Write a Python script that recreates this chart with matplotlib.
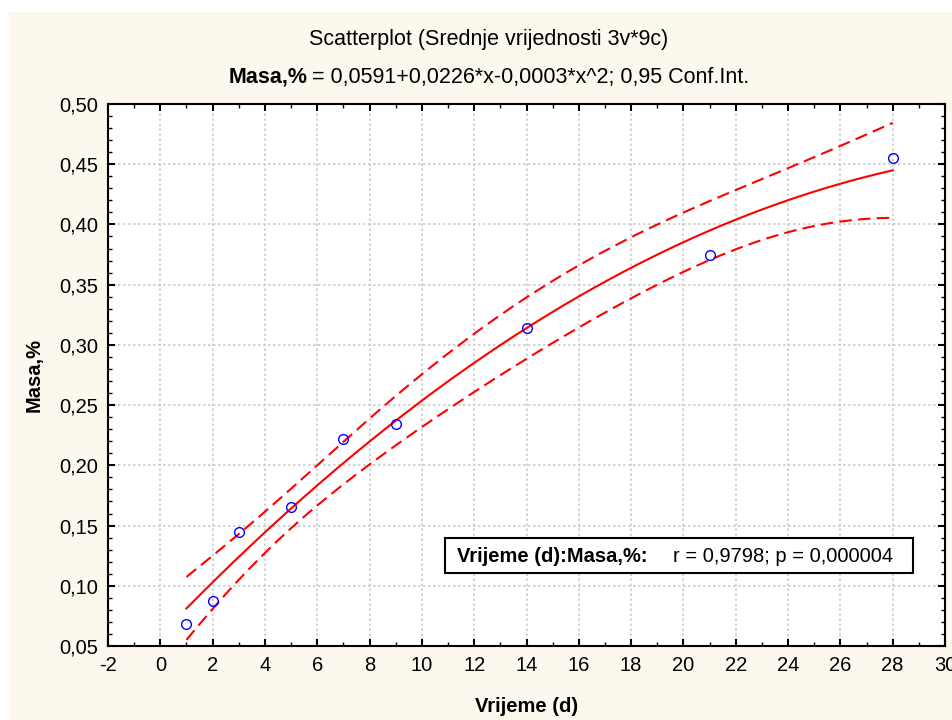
import numpy as np
import matplotlib
matplotlib.use("Agg")
import matplotlib.pyplot as plt
from matplotlib.patches import Rectangle
from matplotlib.ticker import MultipleLocator, FuncFormatter

# Srednje vrijednosti (3 ponavljanja x 9 termina)
vrijeme = [1, 2, 3, 5, 7, 9, 14, 21, 28]
masa = [0.068, 0.087, 0.145, 0.165, 0.222, 0.234, 0.314, 0.375, 0.455]

x_ticks = list(range(-2, 31, 2))
y_ticks = [0.05, 0.10, 0.15, 0.20, 0.25, 0.30, 0.35, 0.40, 0.45, 0.50]

naslov = "Scatterplot (Srednje vrijednosti 3v*9c)"
podnaslov_b = "Masa,%"
podnaslov = "= 0,0591+0,0226*x-0,0003*x^2; 0,95 Conf.Int."
okvir_b = "Vrijeme (d):Masa,%:"
okvir = "r = 0,9798; p = 0,000004"

W, H = 952, 720
krem = "#fdf8ed"

plt.rcParams["font.family"] = ["Liberation Sans", "DejaVu Sans"]
plt.rcParams["axes.unicode_minus"] = False
uski = ["Liberation Sans Narrow", "Liberation Sans", "DejaVu Sans"]

fig = plt.figure(figsize=(W / 100, H / 100), dpi=100, facecolor="white")
fig.add_artist(Rectangle((9 / W, 0), 1, 1 - 12 / H, transform=fig.transFigure,
                         facecolor=krem, edgecolor="none", zorder=-10))

ax = fig.add_axes([108 / W, 1 - 646 / H, (945 - 108) / W, (646 - 104) / H])
ax.set_facecolor("white")

# kvadratna regresija + 95% interval pouzdanosti
X = np.array(vrijeme, dtype=float)
Y = np.array(masa)
coef = np.polyfit(X, Y, 2)
A = np.vander(X, 3)
res = Y - A @ coef
s2 = res @ res / (len(X) - 3)
cov = s2 * np.linalg.inv(A.T @ A)
xs = np.linspace(min(vrijeme), max(vrijeme), 300)
As = np.vander(xs, 3)
yfit = As @ coef
se = np.sqrt(np.einsum("ij,jk,ik->i", As, cov, As))
t_val = 2.4469  # t(0.975, df=6)

ax.plot(xs, yfit, color="red", lw=1.5, zorder=3)
ax.plot(xs, yfit + t_val * se, color="red", lw=1.5, ls=(0, (6, 3)), zorder=3)
ax.plot(xs, yfit - t_val * se, color="red", lw=1.5, ls=(0, (6, 3)), zorder=3)
ax.plot(vrijeme, masa, "o", mfc="none", mec="blue", ms=7, mew=1, zorder=4)

ax.set_xlim(-2, 30)
ax.set_ylim(0.05, 0.50)
ax.set_xticks(x_ticks)
ax.set_yticks(y_ticks)
ax.xaxis.set_minor_locator(MultipleLocator(1))
ax.yaxis.set_minor_locator(MultipleLocator(0.01))
ax.yaxis.set_major_formatter(FuncFormatter(lambda v, p: f"{v:.2f}".replace(".", ",")))
ax.xaxis.set_major_formatter(FuncFormatter(lambda v, p: f"{v:.0f}"))

ax.grid(True, which="major", color="#cccccc", lw=1.2, ls=(0, (1.5, 1.5)))
ax.set_axisbelow(True)
ax.tick_params(which="both", direction="in", top=True, right=True, colors="black")
ax.tick_params(which="major", length=5, width=1.5, labelsize=14.5, pad=7)
ax.tick_params(which="minor", length=3, width=1)
for s in ax.spines.values():
    s.set_linewidth(1.5)

# naslovi i oznake osi
fig.text(489 / W, 1 - 40 / H, naslov, ha="center", va="center", family=uski, fontsize=15.5)
fig.text(527 / W, 1 - 707 / H, "Vrijeme (d)", ha="center", va="center",
         fontweight="bold", fontsize=14.5)
fig.text(34 / W, 1 - 375 / H, "Masa,%", ha="center", va="center", rotation=90,
         fontweight="bold", fontsize=14.5)

t1 = fig.text(0, 1 - 77 / H, podnaslov_b, ha="left", va="center", family=uski,
              fontweight="bold", fontsize=15.5)
t2 = fig.text(0, 1 - 77 / H, podnaslov, ha="left", va="center", family=uski, fontsize=15.5)
fig.canvas.draw()
r = fig.canvas.get_renderer()
w1 = t1.get_window_extent(r).width
w2 = t2.get_window_extent(r).width
razmak = 4
x0 = 489 - (w1 + razmak + w2) / 2
t1.set_x(x0 / W)
t2.set_x((x0 + w1 + razmak) / W)

# okvir s koeficijentom korelacije
fig.add_artist(Rectangle((445 / W, 1 - 573 / H), (913 - 445) / W, (573 - 538) / H,
                         transform=fig.transFigure, facecolor="white",
                         edgecolor="black", lw=1.5, zorder=5))
fig.text(457 / W, 1 - 556 / H, okvir_b, ha="left", va="center", fontweight="bold",
         fontsize=14.5, zorder=6)
fig.text(673 / W, 1 - 556 / H, okvir, ha="left", va="center", fontsize=14.5, zorder=6)

fig.savefig("out.png", dpi=100, facecolor=fig.get_facecolor())
